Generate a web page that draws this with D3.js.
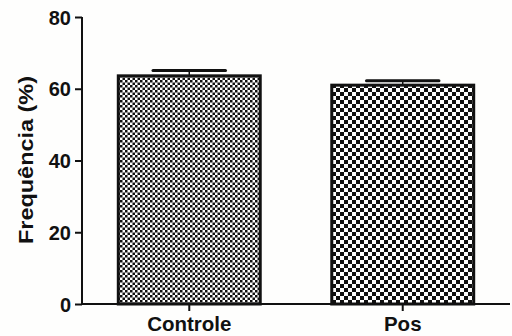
<!DOCTYPE html>
<html>
<head>
<meta charset="utf-8">
<script src="https://cdn.jsdelivr.net/npm/d3@7/dist/d3.min.js"></script>
<style>
  html, body { margin: 0; padding: 0; background: #fefefd; }
  svg { display: block; }
  text { font-family: "Liberation Sans", Arial, sans-serif; font-weight: bold; fill: #111; }
</style>
</head>
<body>
<svg id="chart" width="512" height="336"></svg>
<script>
// Group labels, mean frequencies (%) and error (SEM)
const categories = ["Controle", "Pos"];
const means = [63.6, 61.0];
const errors = [1.5, 1.2];
const yTicks = [0, 20, 40, 60, 80];
const yTitle = "Frequência (%)";

const svg = d3.select("#chart");
const x0 = 82, x1 = 510, yBottom = 304, yTop = 17;

const x = d3.scaleBand()
  .domain(categories)
  .range([x0, x1])
  .paddingInner(0.321)
  .paddingOuter(0.163);

const y = d3.scaleLinear().domain([0, 80]).range([yBottom, yTop]);

// Checkerboard fills: fine for the first group, coarse for the second
const defs = svg.append("defs");
function checker(id, size) {
  const p = defs.append("pattern")
    .attr("id", id)
    .attr("patternUnits", "userSpaceOnUse")
    .attr("width", size * 2).attr("height", size * 2);
  p.append("rect").attr("width", size * 2).attr("height", size * 2).attr("fill", "#fff");
  p.append("rect").attr("width", size).attr("height", size).attr("fill", "#111");
  p.append("rect").attr("x", size).attr("y", size).attr("width", size).attr("height", size).attr("fill", "#111");
}
checker("fine", 2.5);
checker("coarse", 4);
const fills = ["url(#fine)", "url(#coarse)"];

const data = categories.map((c, i) => ({ c, m: means[i], e: errors[i], fill: fills[i] }));

// Error bars (drawn under the bars so only the upper half shows)
const eb = svg.append("g");
data.forEach(d => {
  const cx = x(d.c) + x.bandwidth() / 2;
  eb.append("line")
    .attr("x1", cx).attr("x2", cx)
    .attr("y1", y(d.m)).attr("y2", y(d.m + d.e))
    .attr("stroke", "#111").attr("stroke-width", 1.5);
  eb.append("line")
    .attr("x1", cx - x.bandwidth() * 0.25).attr("x2", cx + x.bandwidth() * 0.25)
    .attr("y1", y(d.m + d.e)).attr("y2", y(d.m + d.e))
    .attr("stroke", "#111").attr("stroke-width", 3).attr("stroke-linecap", "round");
});

// Bars
svg.append("g").selectAll("rect").data(data).join("rect")
  .attr("x", d => x(d.c) + 1.5)
  .attr("width", x.bandwidth() - 3)
  .attr("y", d => y(d.m))
  .attr("height", d => y(0) - y(d.m))
  .attr("fill", d => d.fill)
  .attr("stroke", "#111")
  .attr("stroke-width", 3);

// Y axis
const yAxis = svg.append("g")
  .attr("transform", `translate(${x0},0)`)
  .call(d3.axisLeft(y).tickValues(yTicks).tickSize(7).tickPadding(4).tickFormat(d3.format("d")));
yAxis.select(".domain").attr("stroke", "#111").attr("stroke-width", 2).attr("d", `M0,${yTop}V${yBottom}`);
yAxis.selectAll(".tick line").attr("stroke", "#111").attr("stroke-width", 2);
yAxis.selectAll(".tick text").attr("font-size", 20).attr("font-family", null).attr("fill", "#111").attr("dy", "0.36em");

// X axis
const xAxis = svg.append("g")
  .attr("transform", `translate(0,${yBottom})`)
  .call(d3.axisBottom(x).tickSize(7).tickPadding(5));
xAxis.select(".domain").attr("stroke", "#111").attr("stroke-width", 2).attr("d", `M${x0},0H${x1}`);
xAxis.selectAll(".tick line").attr("stroke", "#111").attr("stroke-width", 2);
xAxis.selectAll(".tick text").attr("font-size", 20.5).attr("font-family", null).attr("fill", "#111");

// Y title
svg.append("text")
  .attr("transform", `translate(33,160) rotate(-90)`)
  .attr("text-anchor", "middle")
  .attr("font-size", 21)
  .attr("textLength", 168)
  .attr("lengthAdjust", "spacingAndGlyphs")
  .text(yTitle);
</script>
</body>
</html>
